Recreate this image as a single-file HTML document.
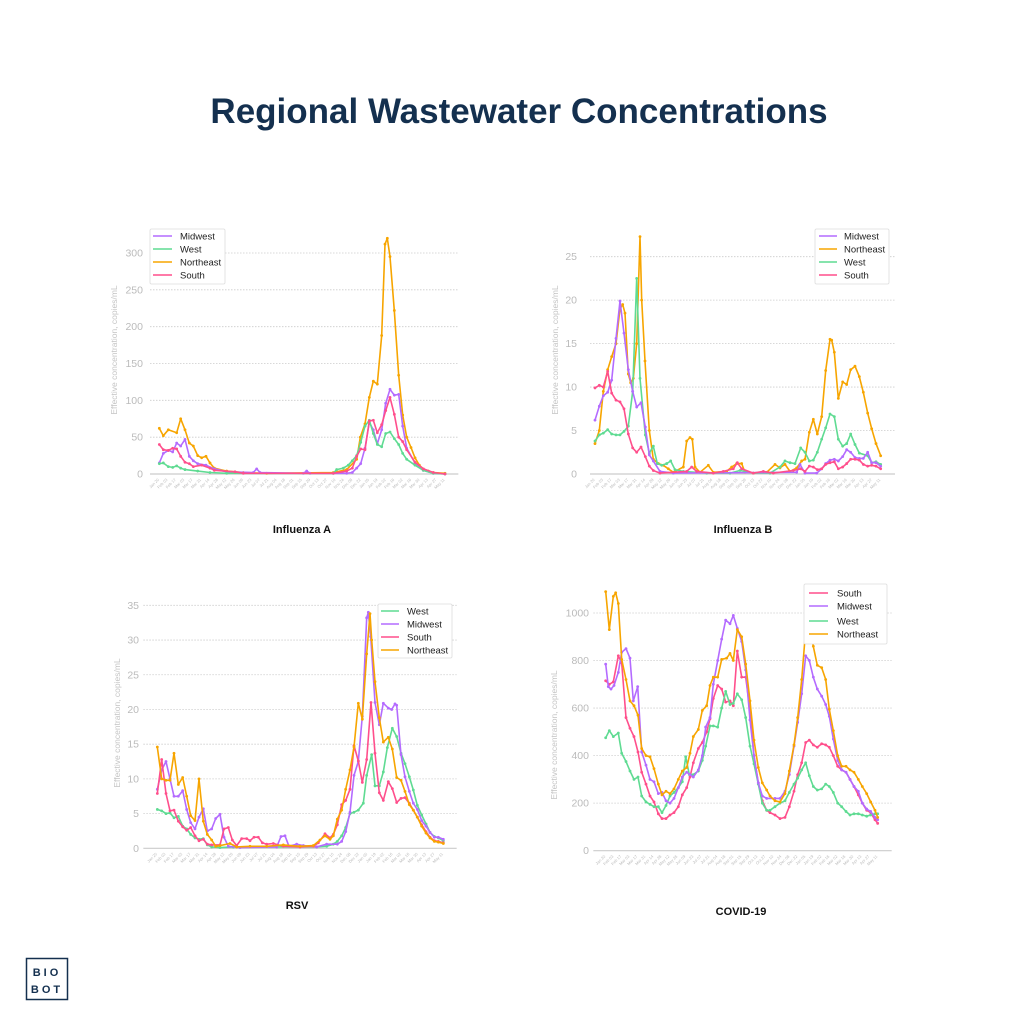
<!DOCTYPE html>
<html><head><meta charset="utf-8">
<style>
html,body{margin:0;padding:0;background:#fff;}
svg{display:block;font-family:"Liberation Sans",sans-serif;}
</style></head>
<body>
<svg id="s" width="1024" height="1024" viewBox="0 0 1024 1024" xmlns="http://www.w3.org/2000/svg">
<rect width="1024" height="1024" fill="#fff"/>
<text x="519" y="123" text-anchor="middle" font-size="35" font-weight="bold" fill="#14304f">Regional Wastewater Concentrations</text>
<text x="302" y="533" text-anchor="middle" font-size="11" font-weight="bold" fill="#111">Influenza A</text>
<text x="743" y="533" text-anchor="middle" font-size="11" font-weight="bold" fill="#111">Influenza B</text>
<text x="297" y="909" text-anchor="middle" font-size="11" font-weight="bold" fill="#111">RSV</text>
<text x="741" y="915" text-anchor="middle" font-size="11" font-weight="bold" fill="#111">COVID-19</text>
<rect x="26.5" y="958.5" width="41" height="41" fill="none" stroke="#14304f" stroke-width="1.5"/>
<text x="47" y="976" text-anchor="middle" font-size="11" font-weight="bold" fill="#14304f" letter-spacing="3">BIO</text>
<text x="47" y="993" text-anchor="middle" font-size="11" font-weight="bold" fill="#14304f" letter-spacing="3">BOT</text>
<g id="g"></g>
</svg>
<script>
var C={M:"#b46bff",W:"#5fdb92",N:"#f7a500",S:"#ff4f8c"};
var NS="http://www.w3.org/2000/svg",G=document.getElementById("g");
function el(t,a,txt){var e=document.createElementNS(NS,t);for(var k in a)e.setAttribute(k,a[k]);if(txt!=null)e.textContent=txt;G.appendChild(e);return e;}
function P(s){var a=[];var p=s.trim().split(/\s*,\s*/);p.forEach(function(q){var r=q.split(":");a.push([+r[0],+r[1]]);});return a;}
var months=["Jan 20","Feb 03","Feb 17","Mar 03","Mar 17","Mar 31","Apr 14","Apr 28","May 12","May 26","Jun 09","Jun 23","Jul 07","Jul 21","Aug 04","Aug 18","Sep 01","Sep 15","Sep 29","Oct 13","Oct 27","Nov 10","Nov 24","Dec 08","Dec 22","Jan 05","Jan 19","Feb 02","Feb 16","Mar 02","Mar 16","Mar 30","Apr 13","Apr 27","May 11"];
function chart(c){
  var X=function(z){return c.ox+z/3;};
  var Y=function(v){return c.oy+(c.y0-v*c.k)/3;};
  for(var v=0;v<=c.max;v+=c.step){
    var y=Y(v);
    el("line",{x1:X(c.g0),x2:X(c.g1),y1:y,y2:y,stroke:v==0?"#ccc":"#ccc","stroke-width":v==0?1.2:0.8,"stroke-dasharray":v==0?"":"1.5,1.5"});
    el("text",{x:c.lx,y:y+3.5,"text-anchor":"end","font-size":10.5,fill:"#bbb"},v);
  }
  el("text",{transform:"translate("+c.tx+","+c.ty+") rotate(-90)","text-anchor":"middle","font-size":8.5,fill:"#c4c4c4"},"Effective concentration, copies/mL");
  var n=months.length;
  for(var i=0;i<n;i++){
    var x=X(c.x0+(c.x1-c.x0)*i/(n-1)), y=Y(0)+6;
    el("text",{transform:"translate("+x+","+y+") rotate(-45)","text-anchor":"end","font-size":4,fill:"#bbb"},months[i]);
  }
  c.series.forEach(function(s){
    var pts=P(s[1]).map(function(p){return [X(p[0]),Y(p[1])];});
    el("polyline",{points:pts.map(function(p){return p[0].toFixed(1)+","+p[1].toFixed(1);}).join(" "),fill:"none",stroke:C[s[0]],"stroke-width":1.6,"stroke-linejoin":"round"});
    pts.forEach(function(p){el("circle",{cx:p[0],cy:p[1],r:1.4,fill:C[s[0]]});});
  });
  var L=c.leg;
  el("rect",{x:L.x,y:L.y,width:L.w,height:L.h,fill:"#fff",stroke:"#ddd","stroke-width":0.8,rx:1.5});
  L.items.forEach(function(it,i){
    var y=L.iy[i];
    el("line",{x1:L.l0,x2:L.l1,y1:y,y2:y,stroke:C[it[0]],"stroke-width":1.6});
    el("text",{x:L.tx,y:y+3.3,"font-size":9.5,fill:"#222"},it[1]);
  });
}
// Influenza A
chart({ox:100,oy:220,y0:762,k:(762-99)/300,max:300,step:50,g0:150,g1:1075,lx:143,tx:117,ty:350,x0:178,x1:1035,
series:[
["N","178:62,190:52,205:60,230:56,242:75,255:60,268:42,280:38,293:25,305:22,318:24,330:15,343:8,380:4,430:2,500:1,700:2,740:6,770:20,781:50,795:68,808:104,820:126,832:122,845:188,855:312,862:320,870:295,883:222,896:134,908:80,920:50,933:36,945:22,958:12,970:7,985:4,1000:2,1035:1"],
["M","178:15,190:28,205:32,218:30,230:42,242:38,255:47,268:24,280:18,293:14,318:12,343:7,380:3,460:2,470:7,480:2,610:1,620:4,630:1,700:1,740:1,757:2,770:8,782:14,795:35,808:70,820:60,832:41,845:60,857:96,870:115,883:107,896:108,908:65,920:35,945:15,970:5,1000:1,1035:0"],
["W","178:14,190:15,205:10,218:9,230:11,242:8,255:6,293:4,330:2,380:1,700:1,710:6,730:8,745:12,757:18,770:25,782:43,795:65,808:73,820:55,832:40,845:37,857:55,870:57,883:48,896:40,908:28,920:20,945:12,970:5,1000:1,1035:0"],
["S","178:40,190:33,205:32,218:35,230:34,242:24,255:16,268:14,280:10,305:12,330:8,343:5,405:3,430:1,700:1,740:4,757:8,770:24,782:34,795:33,808:72,820:73,832:56,845:67,857:86,870:104,883:81,896:50,908:44,920:33,945:16,970:7,1000:2,1035:0"]],
leg:{x:150,y:229,w:75,h:55,l0:153,l1:172,tx:180,iy:[236,249,262,275],items:[["M","Midwest"],["W","West"],["N","Northeast"],["S","South"]]}});
// Influenza B
chart({ox:540,oy:220,y0:762,k:(762-110)/25,max:25,step:5,g0:150,g1:1065,lx:577,tx:558,ty:350,x0:165,x1:1022,
series:[
["N","165:3.5,178:5,190:9.5,203:12,215:13.5,228:15,240:19,248:19.5,255:18.5,265:11.5,272:10.5,280:11,290:15,300:27.3,305:20,315:13,328:5,340:1.7,355:1.2,370:1,385:0.6,400:0.2,430:0.8,440:3.8,450:4.2,457:4,465:0.8,480:0.2,505:1,520:0.2,560:0.3,575:0.8,590:1.2,605:1.2,615:0.2,640:0.1,680:0.2,705:1.1,720:0.7,735:1.1,750:0.3,770:0.7,785:1.5,795:1.7,808:4.8,820:6.3,832:4.6,845:6.6,857:11.9,870:15.5,875:15.4,883:14,895:8.7,908:10.6,920:10.3,932:12,945:12.4,958:11.2,970:9.4,983:7,995:5.2,1008:3.5,1022:2.1"],
["W","165:3.8,178:4.5,190:4.7,203:5.1,215:4.6,228:4.5,240:4.5,252:4.9,265:5.5,278:9.5,290:22.5,300:11,316:4.5,328:2.4,340:3.2,352:1.2,365:1,380:1.2,392:1.5,405:0.5,430:0.3,500:0.1,570:0.1,600:0.4,640:0.1,690:0.1,720:0.8,735:1.5,750:1.3,765:1.2,782:3,795:2.5,808:1.5,820:1.6,832:2.5,845:4,857:5.3,870:6.9,883:6.6,895:4,908:3.2,920:3.5,932:4.6,945:3.4,958:2.4,983:2.1,995:1.3,1008:1.4,1022:1.1"],
["M","165:6.2,178:7.8,190:9,203:9.4,215:10.8,228:15.6,240:19.9,252:16.2,265:12,278:9.5,290:7.7,303:8.2,316:5.4,328:2.2,340:1.5,360:0.3,400:0.1,770:0.2,780:1.1,795:0.1,830:0.1,845:0.6,857:1.2,870:1.6,883:1.7,895:1.5,908:2,920:2.8,932:2.5,945:1.9,958:1.8,970:1.8,983:2.5,995:1.3,1008:1.3,1022:0.9"],
["S","165:9.9,178:10.2,190:10,203:11.8,215:9.3,228:8.5,240:8.3,252:7.5,265:4.6,278:3,290:2.5,303:3.1,316:2,328:0.9,340:0.4,360:0.1,440:0.3,455:0.8,470:0.3,520:0.1,550:0.3,580:0.6,592:1.3,605:0.6,640:0.1,670:0.3,700:0.1,760:0.4,782:0.6,795:0.3,808:0.9,820:0.8,832:0.5,845:0.6,857:1.1,870:1.3,883:1.4,895:0.6,908:0.8,920:1.2,932:1.7,945:1.7,958:1.6,970:1.1,983:0.9,995:1,1008:0.9,1022:0.6"]],
leg:{x:815,y:229,w:74,h:55,l0:819,l1:837,tx:844,iy:[236,249,262,275],items:[["M","Midwest"],["N","Northeast"],["W","West"],["S","South"]]}});
// RSV
chart({ox:100,oy:590,y0:775,k:(775-46)/35,max:35,step:5,g0:130,g1:1070,lx:139,tx:120,ty:723,x0:172,x1:1030,
series:[
["W","172:5.6,185:5.4,198:5,210:5.1,222:4.4,235:4.6,248:3.2,260:2.8,272:2,285:1.5,297:1.3,310:1.4,322:0.5,335:0.2,360:0.1,400:0.2,650:0.2,680:0.3,700:0.6,712:1,725:1.8,737:3,750:5,762:5.2,775:5.5,790:6.5,800:10.5,815:13.5,825:9,838:9,850:11,862:14.5,877:17.3,890:16.1,903:13.7,915:12.2,928:10.3,940:8.4,952:6.2,965:4.8,978:3.5,990:2.3,1003:1.7,1015:1.5,1030:1.1"],
["M","172:8.5,185:11.3,198:12.5,210:10,222:7.5,235:7.5,248:8.3,260:5.6,272:3.7,285:2.8,297:4.5,310:5.7,322:2.5,335:2.8,347:4.3,360:4.9,372:1.6,385:0.3,420:0.1,530:0.2,543:1.7,555:1.8,567:0.3,590:0.6,610:0.4,650:0.2,680:0.6,712:0.6,725:1,737:2.4,750:5.2,762:10.5,775:12.5,787:19,800:33.2,805:34,812:30.5,825:21,838:17.8,850:20.9,865:20.2,875:20,885:20.8,890:20.6,903:13.5,915:10.3,928:8.2,940:6.5,952:5.6,965:4,978:3.2,990:2.3,1003:1.6,1015:1.6,1030:1.3"],
["S","172:7.9,185:12.8,198:7.9,210:5.4,222:5.5,235:3.9,248:3.1,260:2.6,272:3,285:1.8,297:1.1,310:1.3,322:0.6,335:0.5,360:0.5,372:2.8,385:3,397:1.2,410:0.4,425:1.4,440:1.4,450:1.1,462:1.6,475:1.6,487:0.8,500:0.6,520:0.7,550:0.3,600:0.2,640:0.3,655:0.8,675:2.1,690:1.5,700:2,712:3.4,725:6.3,737:6.9,750:8.5,762:14.8,775:12.6,787:9.5,800:12.8,813:21,825:13.7,838:8,850:6.9,865:9.6,877:8.6,890:6.6,903:7.2,915:7.3,928:6.5,940:5.5,952:4.5,965:3.4,978:2.4,990:1.6,1003:1.1,1015:1,1030:0.8"],
["N","172:14.6,185:10,198:9.8,210:9.8,222:13.7,235:9.2,248:10.2,260:7.5,272:4.7,285:4,297:10,310:3.9,322:2,335:1.2,347:0.3,360:0.4,390:0.7,410:0.2,450:0.3,500:0.3,550:0.5,600:0.3,640:0.4,660:1.2,675:1.8,690:1.3,700:1.8,712:4.2,725:5.5,737:8.5,750:11.3,762:14.6,775:20.9,787:18.6,800:28,810:33.8,815:30,825:24,838:18.8,850:15.3,865:16,877:14.3,890:10.2,903:9.8,915:8.2,928:6.3,940:5.5,952:4.5,965:3.2,978:2.2,990:1.5,1003:1,1015:0.9,1030:0.7"]],
leg:{x:378,y:604,w:74,h:54,l0:381,l1:399,tx:407,iy:[611,624,637,650],items:[["W","West"],["M","Midwest"],["S","South"],["N","Northeast"]]}});
// COVID
chart({ox:540,oy:580,y0:812,k:(812-99)/1000,max:1000,step:200,g0:160,g1:1055,lx:589,tx:557,ty:735,x0:197,x1:1013,
series:[
["S","197:715,208:700,220:710,235:820,245:790,258:560,270:515,282:480,294:415,305:330,318:280,330:230,342:205,355:155,366:135,378:135,390:150,402:160,415:185,427:235,440:265,450:310,460:370,475:430,487:455,500:500,510:555,520:640,533:695,545:680,557:625,570:630,580:610,592:840,605:730,617:730,630:590,642:400,655:285,667:210,680:170,690:160,705:150,720:135,735:140,748:185,762:250,773:320,785:370,797:455,808:465,820:445,832:435,845:450,857:445,868:435,880:400,893:355,905:340,918:330,930:300,942:270,955:235,967:200,980:170,992:160,1005:130,1013:115"],
["W","197:475,208:505,220:480,235:495,245:410,258:375,270:335,282:300,294:310,305:230,318:205,330:195,342:185,355:185,366:160,378:190,390:230,402:245,415:265,427:290,437:395,448:320,460:320,475:335,487:380,497:440,510:525,520:525,533:520,545:600,557:670,570:615,580:620,592:660,605:635,617:560,630:440,642:365,655:280,667:200,680:170,690:170,705:185,720:200,735:210,748:245,762:280,773:305,785:340,797:370,808:315,820:270,832:255,845:260,857:280,868:270,880:245,893:200,905:185,918:165,930:150,942:155,955:155,967:150,980:145,992:150,1005:155,1013:155"],
["M","197:785,205:690,213:680,222:695,235:750,245:835,258:850,270:810,280:630,293:690,305:415,318:360,330:300,342:290,355:240,366:245,378:210,390:200,402:220,415:265,427:310,440:330,450:320,460:310,475:340,487:400,497:520,510:560,520:700,533:800,545:890,557:970,570:955,580:990,592:935,605:880,617:760,630:550,642:400,655:285,667:230,680:220,705:220,720:220,735:250,748:320,762:440,773:540,785:660,797:820,808:800,820:730,832:680,845:650,857:615,868:565,880:470,893:380,905:340,918:330,930:300,942:270,955:250,967:200,980:175,992:165,1005:140,1013:130"],
["N","197:1090,208:930,220:1070,227:1085,235:1040,245:805,258:720,270:630,282:610,294:570,305:430,318:400,330:395,342:345,355:280,366:235,378:250,390:240,402:260,415:300,427:335,440:350,450:410,460:480,475:510,487:590,500:610,510:695,520:730,533:730,545:805,560:810,570:830,580:800,592:930,605:900,617:785,630:630,642:465,655:350,667:285,680:255,690:230,705:210,720:205,735:240,748:335,762:445,773:560,785:720,797:930,808:960,820:860,832:780,845:770,857:720,868:595,880:505,893:400,905:355,918:355,930:340,942:330,955:300,967:270,980:240,992:205,1005:170,1013:140"]],
leg:{x:804,y:584,w:83,h:60,l0:809,l1:828,tx:837,iy:[593,606,621,634],items:[["S","South"],["M","Midwest"],["W","West"],["N","Northeast"]]}});
</script>
</body></html>
